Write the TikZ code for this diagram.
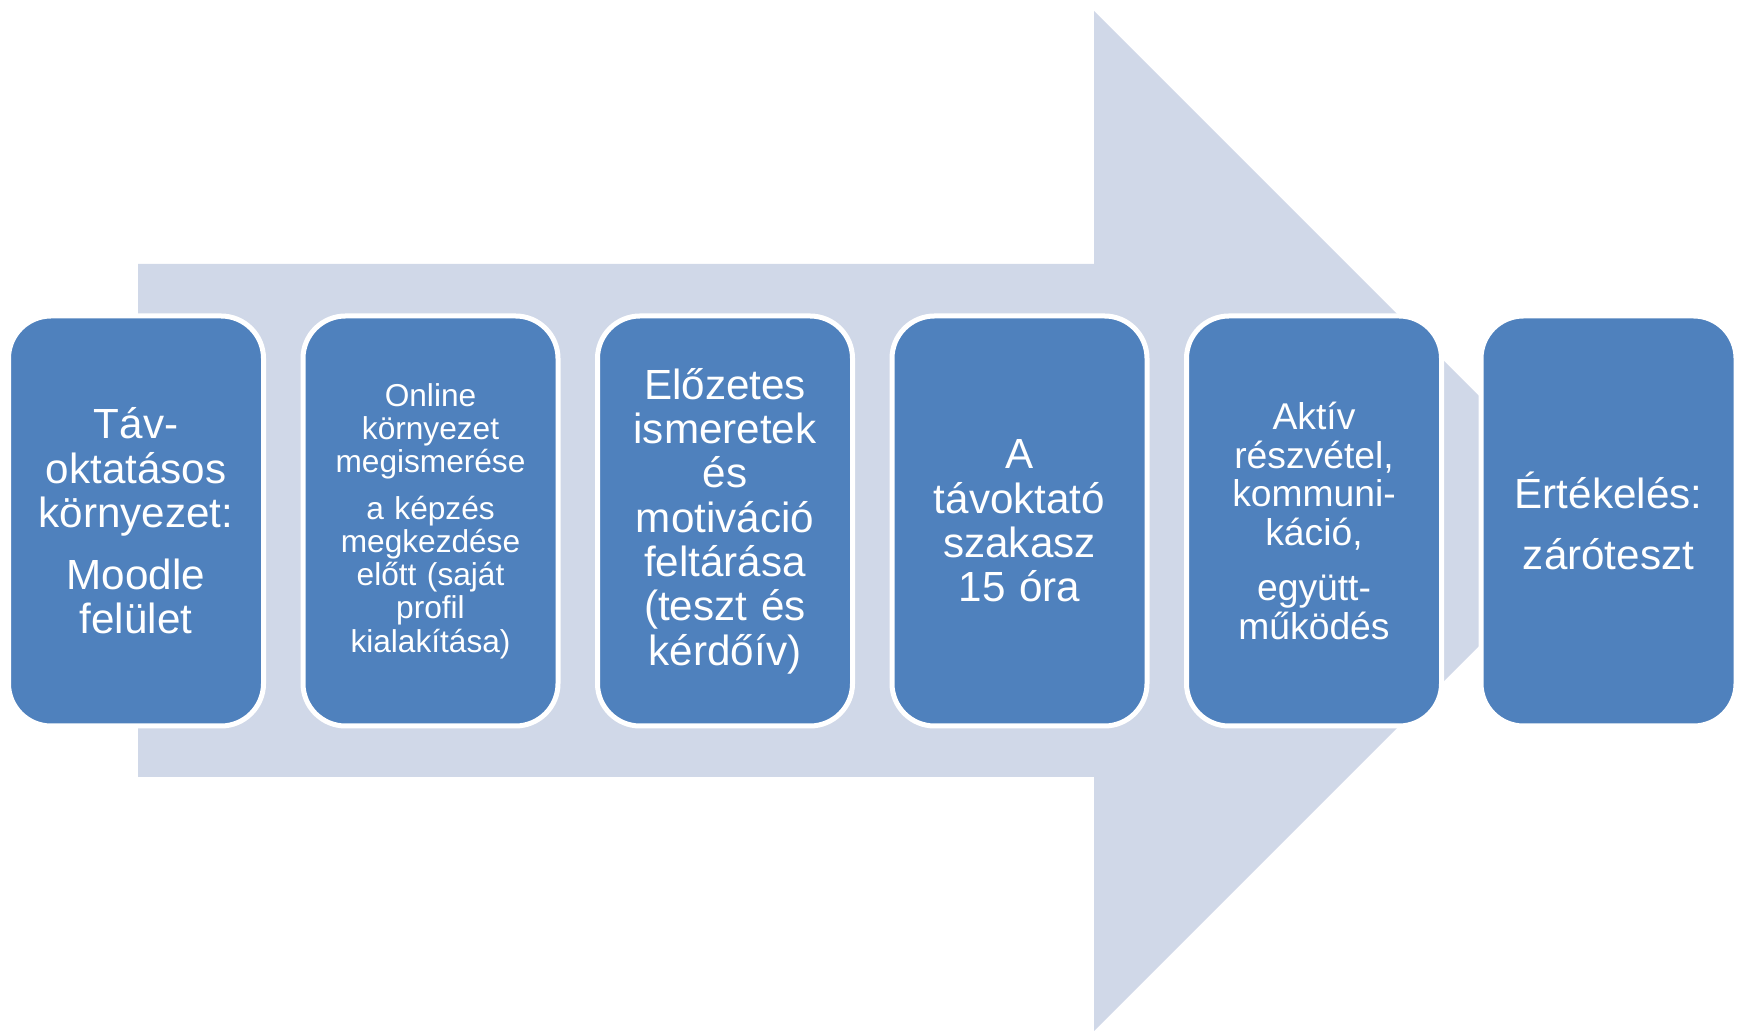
\documentclass[tikz,border=0pt]{standalone}
\usepackage{fontspec}
\setmainfont{Liberation Sans}
\usetikzlibrary{positioning}
\definecolor{stepblue}{HTML}{4F81BD}
\definecolor{arrowgray}{HTML}{D0D8E8}

\begin{document}
\begin{tikzpicture}[
    stepbox/.style={rectangle, rounded corners=0.85cm, fill=stepblue, draw=white, line width=0.1cm,
        outer sep=0pt, minimum width=5.1cm, minimum height=8.2cm, text width=4.6cm,
        align=center, text=white, inner sep=0pt},
    bigtxt/.style={font=\fontsize{24}{25.2}\selectfont},
    midtxt/.style={font=\fontsize{21.2}{22}\selectfont},
    smalltxt/.style={font=\fontsize{18}{18.9}\selectfont}]
                \useasboundingbox (0,0) rectangle (34.82,20.62);
                % big arrow behind the steps
                \fill [arrowgray] (2.76,5.08) -- (21.88,5.08) -- (21.88,0) -- (32.08,10.2) -- (21.88,20.4) -- (21.88,15.34) -- (2.76,15.34) -- cycle;
                \node [stepbox, bigtxt] (s1) at (2.72,10.2) {Táv-\\oktatásos\\környezet:\\[10pt]Moodle\\felület};
                \node [stepbox, smalltxt, right=0.79cm of s1] (s2) {Online\\környezet\\megismerése\\[7.5pt]a képzés\\megkezdése\\előtt (saját\\profil\\kialakítása)};
                \node [stepbox, bigtxt, right=0.79cm of s2] (s3) {Előzetes\\ismeretek\\és\\motiváció\\feltárása\\(teszt és\\kérdőív)};
                \node [stepbox, bigtxt, right=0.79cm of s3] (s4) {A\\távoktató\\szakasz\\15 óra};
                \node [stepbox, midtxt, right=0.79cm of s4] (s5) {Aktív\\részvétel,\\kommuni-\\káció,\\[9.4pt]együtt-\\működés};
                \node [stepbox, bigtxt, right=0.79cm of s5] (s6) {Értékelés:\\[9.4pt]záróteszt};
            \end{tikzpicture}
\end{document}
